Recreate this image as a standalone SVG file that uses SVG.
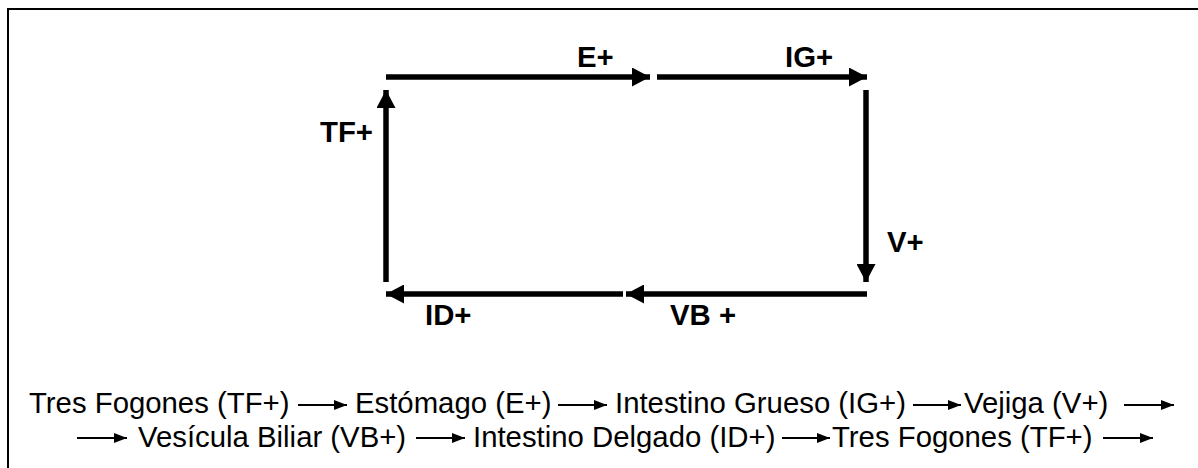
<svg xmlns="http://www.w3.org/2000/svg" width="1198" height="468" viewBox="0 0 1198 468">
<style>
.lbl{font-family:"Liberation Sans",Arial,sans-serif;font-weight:bold;font-size:29.33px;fill:#000}
.txt{font-family:"Liberation Sans",Arial,sans-serif;font-size:29.33px;fill:#000}
.big{stroke:#000;stroke-width:5.5;fill:none;marker-end:url(#bigHead)}
.small{stroke:#000;stroke-width:2;fill:none;marker-end:url(#smallHead)}
</style>
<defs>
<marker id="bigHead" markerUnits="userSpaceOnUse" markerWidth="18" markerHeight="19" refX="18" refY="9.5" orient="auto">
<path d="M0,0 L18,9.5 L0,19 Z" fill="#000"/>
</marker>
<marker id="smallHead" markerUnits="userSpaceOnUse" markerWidth="13" markerHeight="10" refX="13" refY="5" orient="auto">
<path d="M0,0 L13,5 L0,10 Z" fill="#000"/>
</marker>
</defs>
<rect x="8" y="9" width="1200" height="470" fill="#fff" stroke="#000" stroke-width="2"/>
<g id="connectors">
<line class="big" x1="386" y1="77" x2="650" y2="77"/>
<line class="big" x1="657" y1="77" x2="867" y2="77"/>
<line class="big" x1="866" y1="90" x2="866" y2="282"/>
<line class="big" x1="867" y1="294" x2="626" y2="294"/>
<line class="big" x1="623" y1="294" x2="386" y2="294"/>
<line class="big" x1="386" y1="282" x2="386" y2="90"/>
</g>
<g id="labels">
<text class="lbl" x="577" y="67">E+</text>
<text class="lbl" x="785" y="67">IG+</text>
<text class="lbl" x="320" y="142">TF+</text>
<text class="lbl" x="887" y="252">V+</text>
<text class="lbl" x="425" y="325">ID+</text>
<text class="lbl" x="670" y="325">VB +</text>
</g>
<g id="sequence">
<text class="txt" x="29" y="413">Tres Fogones (TF+)</text>
<line class="small" x1="298" y1="405" x2="347" y2="405"/>
<text class="txt" x="355" y="413">Estómago (E+)</text>
<line class="small" x1="558" y1="405" x2="607" y2="405"/>
<text class="txt" x="615" y="413">Intestino Grueso (IG+)</text>
<line class="small" x1="913" y1="405" x2="961" y2="405"/>
<text class="txt" x="964" y="413">Vejiga (V+)</text>
<line class="small" x1="1124" y1="405" x2="1174" y2="405"/>
<line class="small" x1="77" y1="438" x2="127" y2="438"/>
<text class="txt" x="138" y="447">Vesícula Biliar (VB+)</text>
<line class="small" x1="416" y1="438" x2="465" y2="438"/>
<text class="txt" x="473" y="447">Intestino Delgado (ID+)</text>
<line class="small" x1="782" y1="438" x2="830" y2="438"/>
<text class="txt" x="832" y="447">Tres Fogones (TF+)</text>
<line class="small" x1="1103" y1="438" x2="1153" y2="438"/>
</g>
</svg>
